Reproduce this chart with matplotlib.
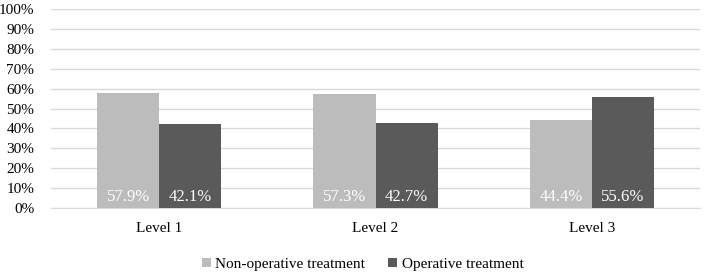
import matplotlib.pyplot as plt
import numpy as np

plt.rcParams['font.family'] = ['Liberation Serif', 'DejaVu Serif']

levels = ["Level 1", "Level 2", "Level 3"]
non_operative = [57.9, 57.3, 44.4]
operative = [42.1, 42.7, 55.6]
yticks = [0, 10, 20, 30, 40, 50, 60, 70, 80, 90, 100]

light = "#bcbcbc"
dark = "#5a5a5a"

fig = plt.figure(figsize=(7.08, 2.75), dpi=100)
ax = fig.add_axes([0.072, 0.2436, 0.917, 0.7234])

x = np.arange(len(levels))
w = 0.287
b1 = ax.bar(x - w / 2, non_operative, w, color=light, label="Non-operative treatment", zorder=3)
b2 = ax.bar(x + w / 2, operative, w, color=dark, label="Operative treatment", zorder=3)

for bars, vals in [(b1, non_operative), (b2, operative)]:
    for r, v in zip(bars, vals):
        ax.text(r.get_x() + r.get_width() / 2, 1.5, "%.1f%%" % v, ha="center", va="bottom",
                color="white", fontsize=12, zorder=4)

ax.set_xlim(-0.5, 2.5)
ax.set_ylim(0, 100)
ax.set_yticks(yticks)
ax.set_yticklabels(["%d%%" % t for t in yticks], fontsize=11)
ax.set_xticks(x)
ax.set_xticklabels(levels, fontsize=11)
ax.tick_params(length=0)
ax.tick_params(axis="x", pad=10)
ax.tick_params(axis="y", pad=12)
ax.grid(axis="y", color="#d9d9d9", linewidth=1, zorder=0)
for s in ["top", "right", "left"]:
    ax.spines[s].set_visible(False)
ax.spines["bottom"].set_color("#d9d9d9")

ax.legend(loc="upper center", bbox_to_anchor=(0.48, -0.18), ncol=2, frameon=False,
          fontsize=11, handlelength=0.6, handleheight=0.6, handletextpad=0.3, columnspacing=1.5)

fig.savefig("out.png", dpi=100)
